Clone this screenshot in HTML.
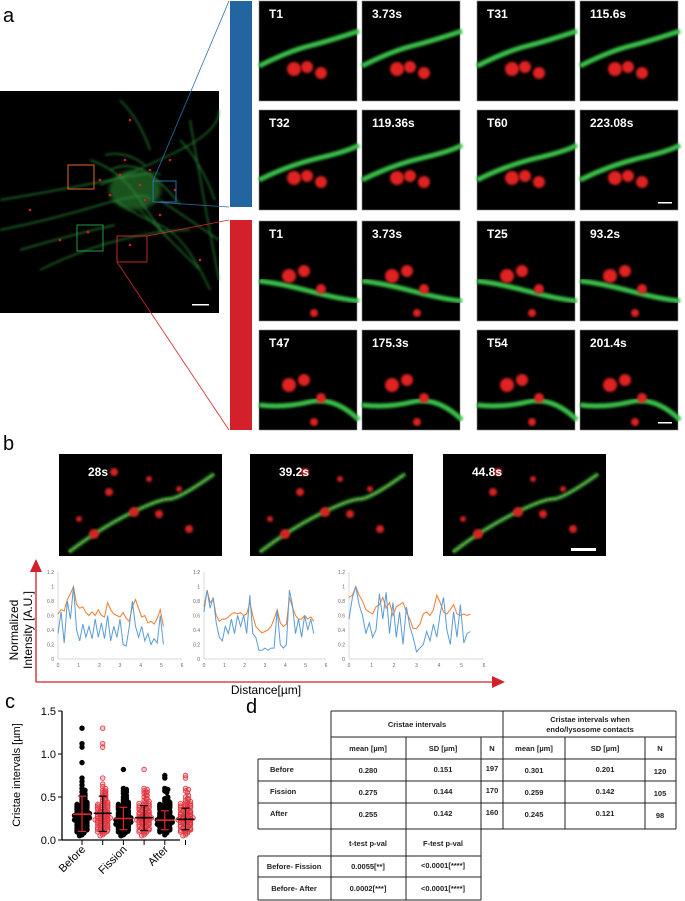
<!DOCTYPE html>
<html><head><meta charset="utf-8"><style>
html,body{margin:0;padding:0;background:#fff;}
svg{display:block;font-family:"Liberation Sans",Arial,sans-serif;}
</style></head><body>
<svg id="fig" width="685" height="901" viewBox="0 0 685 901" xmlns="http://www.w3.org/2000/svg">
<defs>
<filter id="blur1"><feGaussianBlur stdDeviation="1.2"/></filter>
<filter id="blur2"><feGaussianBlur stdDeviation="2"/></filter>
</defs>
<text x="3" y="22" font-size="20">a</text>
<text x="3" y="450" font-size="20">b</text>
<text x="5" y="708" font-size="20">c</text>
<text x="246" y="713" font-size="20">d</text>

<g id="overview">
<rect x="0" y="91" width="219" height="222" fill="#000"/>
<g filter="url(#blur1)" stroke="#2e9a3e" stroke-width="1.2" fill="none" opacity="0.9">
<path d="M0 200 Q60 190 110 180 T160 175"/><path d="M0 230 Q50 220 100 205 T150 200"/>
<path d="M90 160 Q120 170 140 200 T170 240"/><path d="M120 100 Q140 120 150 150"/>
<path d="M100 185 Q140 170 180 150 T219 110"/><path d="M40 270 Q80 250 120 240 T190 230"/>
<path d="M140 210 Q170 240 200 270"/><path d="M20 250 Q70 235 115 225"/>
<path d="M160 200 Q190 220 219 240"/><path d="M190 120 Q200 180 219 280"/>
<path d="M110 170 Q130 160 150 175 T180 205"/><path d="M115 200 Q135 215 160 225 T210 290"/>
<path d="M105 155 Q125 150 145 165"/><path d="M180 140 Q200 160 215 200"/>
</g>
<ellipse cx="135" cy="190" rx="26" ry="20" fill="#2f8a35" opacity="0.6" filter="url(#blur2)"/>
<g fill="#d02020">
<circle cx="120" cy="175" r="1.3"/><circle cx="140" cy="185" r="1.3"/><circle cx="150" cy="170" r="1.3"/><circle cx="110" cy="195" r="1.3"/>
<circle cx="88" cy="232" r="1.3"/><circle cx="130" cy="245" r="1.3"/><circle cx="60" cy="240" r="1.3"/><circle cx="170" cy="160" r="1.3"/>
<circle cx="130" cy="120" r="1.3"/><circle cx="200" cy="260" r="1.3"/><circle cx="30" cy="210" r="1.3"/><circle cx="160" cy="215" r="1.3"/>
<circle cx="125" cy="160" r="1.3"/><circle cx="145" cy="200" r="1.3"/><circle cx="100" cy="180" r="1.3"/><circle cx="175" cy="190" r="1.3"/>
</g>
<rect x="68" y="165" width="26" height="24" fill="none" stroke="#e0662a" stroke-width="1"/>
<rect x="153" y="181" width="23" height="21" fill="none" stroke="#2d6fa8" stroke-width="1"/>
<rect x="77" y="225" width="26" height="26" fill="none" stroke="#1f9a4a" stroke-width="1"/>
<rect x="117" y="236" width="30" height="26" fill="none" stroke="#c0282b" stroke-width="1"/>
<rect x="192" y="304" width="17" height="1.5" fill="#fff"/>
</g>
<line x1="153" y1="181" x2="229" y2="1" stroke="#2d6fa8" stroke-width="0.8"/>
<line x1="153" y1="202" x2="229" y2="207" stroke="#2d6fa8" stroke-width="0.8"/>
<line x1="147" y1="236" x2="229" y2="220" stroke="#d0282b" stroke-width="0.8"/>
<line x1="117" y1="262" x2="229" y2="430" stroke="#d0282b" stroke-width="0.8"/>
<rect x="230" y="1" width="22" height="206" fill="#2365a0"/>
<rect x="230" y="220" width="22" height="210" fill="#d3202a"/>
<g id="tiles"></g>
<g id="bimgs"></g>

<g id="lineplots"></g>
<path d="M36 682 V566" stroke="#d3202a" stroke-width="1.3" fill="none"/>
<path d="M30 572 L36 559 L42 572 Z" fill="#d3202a"/>
<path d="M36 682 H494" stroke="#d3202a" stroke-width="1.3" fill="none"/>
<path d="M492 676 L505 682 L492 688 Z" fill="#d3202a"/>
<text transform="translate(18,630) rotate(-90)" font-size="12" text-anchor="middle">Normalized</text>
<text transform="translate(32,630) rotate(-90)" font-size="12" text-anchor="middle">Intensity [A.U.]</text>
<text x="266" y="694" font-size="12" text-anchor="middle">Distance[µm]</text>

<g id="panelc"></g>
<g id="table"></g>
</svg>
<script>
const NS="http://www.w3.org/2000/svg";
function mk(tag,attrs,parent,txt){const e=document.createElementNS(NS,tag);for(const k in attrs)e.setAttribute(k,attrs[k]);if(txt!==undefined)e.textContent=txt;parent.appendChild(e);return e;}

/* ---------- Tiles (panel a) ---------- */
const tileLabels=[["T1","3.73s","T31","115.6s"],["T32","119.36s","T60","223.08s"],["T1","3.73s","T25","93.2s"],["T47","175.3s","T54","201.4s"]];
const tileX=[259,362,477,580], tileY=[1,110,221,330];
const tg=document.getElementById('tiles');
const greens=["M0 65 Q30 50 50 45 T100 30","M0 70 Q30 55 60 48 T100 35","M0 60 Q20 62 50 70 T100 80","M0 75 Q25 78 50 72 T100 90"];
tileY.forEach((y,r)=>tileX.forEach((x,c)=>{
  const g=mk('g',{transform:`translate(${x},${y})`},tg);
  
  
  mk('rect',{x:0,y:0,width:98,height:100,fill:'#000',stroke:'#888','stroke-width':0.6},g);
  mk('path',{d:greens[r],stroke:'#3bc04a','stroke-width':5,fill:'none',filter:'url(#blur1)'},g);
  const blobs=r<2?[[35,68,7],[48,66,6],[62,72,6]]:[[30,55,7],[45,50,6],[62,68,5],[55,92,4]];
  blobs.forEach(b=>mk('circle',{cx:b[0],cy:b[1],r:b[2],fill:'#e02020',filter:'url(#blur1)'},g));
  const t=mk('text',{x:10,y:17,'font-size':12,'font-weight':'bold',fill:'#fff'},g,tileLabels[r][c]);
  
  
  if(c===3&&(r===1||r===3))mk('rect',{x:78,y:92,width:14,height:1.5,fill:'#fff'},g);
}));

/* ---------- panel b images ---------- */
const bLabels=["28s","39.2s","44.8s"], bX=[59,250,443];
const bg=document.getElementById('bimgs');
bX.forEach((x,i)=>{
  const g=mk('g',{transform:`translate(${x},454)`},bg);
  
  
  mk('rect',{x:0,y:0,width:163,height:102,fill:'#000'},g);
  mk('path',{d:"M10 98 Q40 75 70 60 T110 45 T155 20",stroke:'#30b040','stroke-width':4,fill:'none',filter:'url(#blur1)'},g);
  mk('path',{d:"M10 98 Q40 75 70 60 T110 45 T155 20",stroke:'#e0662a','stroke-width':0.8,'stroke-dasharray':'3 2',fill:'none'},g);
  [[55,18,4],[50,38,4],[75,58,5],[35,80,5],[100,60,4],[120,35,3],[130,75,4],[20,65,3],[90,25,3]].forEach(b=>mk('circle',{cx:b[0],cy:b[1],r:b[2],fill:'#d82020',filter:'url(#blur1)'},g));
  const t=mk('text',{x:29,y:22,'font-size':12,'font-weight':'bold',fill:'#fff'},g,bLabels[i]);
  
  
  if(i===2)mk('rect',{x:128,y:94,width:25,height:3,fill:'#fff'},g);
});

/* ---------- line plots (panel b) ---------- */
const distStep=0.15;
const orange1=[0.62,0.68,0.66,0.82,0.9,1.0,0.75,0.7,0.72,0.64,0.6,0.65,0.6,0.68,0.6,0.58,0.78,0.68,0.62,0.6,0.58,0.64,0.56,0.52,0.72,0.82,0.7,0.58,0.6,0.5,0.52,0.48,0.56,0.68,0.45];
const blue1=[0.35,0.65,0.22,0.8,0.55,1.0,0.4,0.25,0.48,0.3,0.45,0.28,0.55,0.3,0.5,0.28,0.6,0.25,0.45,0.3,0.55,0.2,0.18,0.45,0.8,0.45,0.3,0.45,0.25,0.35,0.2,0.28,0.22,0.6,0.2];
const orange2=[0.72,0.95,0.78,0.82,0.6,0.52,0.55,0.55,0.58,0.62,0.64,0.62,0.64,0.6,0.62,0.78,0.6,0.45,0.4,0.36,0.38,0.4,0.45,0.55,0.68,0.5,0.45,0.48,0.85,0.72,0.6,0.55,0.55,0.6,0.55,0.58,0.52];
const blue2=[0.65,0.95,0.7,0.85,0.5,0.3,0.25,0.45,0.35,0.55,0.35,0.6,0.45,0.6,0.35,0.88,0.35,0.3,0.12,0.12,0.15,0.12,0.15,0.15,0.68,0.2,0.15,0.2,0.95,0.75,0.35,0.55,0.3,0.6,0.4,0.55,0.35];
const orange3=[0.85,0.88,1.0,0.88,0.8,0.68,0.65,0.62,0.72,0.75,0.85,0.7,0.78,0.6,0.72,0.75,0.78,0.65,0.55,0.42,0.42,0.48,0.62,0.65,0.6,0.68,0.88,0.78,0.65,0.62,0.68,0.75,0.62,0.6,0.62,0.6,0.62];
const blue3=[0.55,0.85,1.0,0.75,0.6,0.35,0.5,0.3,0.4,0.9,0.55,0.92,0.35,0.78,0.3,0.65,0.2,0.72,0.45,0.3,0.1,0.15,0.2,0.38,0.25,0.48,0.3,0.62,0.85,0.4,0.2,0.65,0.3,0.75,0.22,0.35,0.38];
const yTicks=[0,0.2,0.4,0.6,0.8,1,1.2];
const xTicks=[0,1,2,3,4,5,6];
const plots=[{o:orange1,b:blue1,x0:58,x1:182},{o:orange2,b:blue2,x0:204,x1:326},{o:orange3,b:blue3,x0:349,x1:484}];
const lp=document.getElementById('lineplots');
const py0=659,py1=572;
plots.forEach((p,pi)=>{
  const xs=v=>p.x0+(v/6)*(p.x1-p.x0), ys=v=>py0-(v/1.2)*(py0-py1);
  const g=mk('g',{},lp);
  
  
  mk('line',{x1:p.x0,y1:py1,x2:p.x0,y2:py0,stroke:'#ccc','stroke-width':0.7},g);
  mk('line',{x1:p.x0,y1:py0,x2:p.x1,y2:py0,stroke:'#ccc','stroke-width':0.7},g);
  yTicks.forEach(t=>{const e=mk('text',{x:p.x0-4,y:ys(t)+2,'font-size':5,fill:'#666','text-anchor':'end'},g,String(t));
    });
  xTicks.forEach(t=>{const e=mk('text',{x:xs(t),y:py0+8,'font-size':5,fill:'#666','text-anchor':'middle'},g,String(t));
    });
  [['o','#ed7d31','mito-intensity-line'],['b','#5b9bd5','cristae-intensity-line']].forEach(([k,col,nm])=>{
    const d=p[k].map((v,i)=>(i?'L':'M')+xs(i*distStep).toFixed(1)+' '+ys(v).toFixed(1)).join(' ');
    const e=mk('path',{d:d,stroke:col,'stroke-width':1,fill:'none'},g);
    
    
  });
});

/* ---------- panel c ---------- */
const groupLabels=["Before","Fission","After"];
const means=[0.30,0.31,0.25,0.26,0.23,0.24];
const sdLow=[0.10,0.10,0.12,0.11,0.12,0.12];
const sdHigh=[0.51,0.51,0.38,0.40,0.34,0.37];
const vals0=[1.3,1.12,1.08,0.9,0.72,0.68,0.64,0.6,0.56,0.52,0.5,0.47,0.45,0.42,0.4,0.38,0.36,0.35,0.33,0.32,0.31,0.3,0.29,0.28,0.27,0.26,0.25,0.24,0.23,0.22,0.21,0.2,0.18,0.17,0.15,0.14,0.12,0.1,0.08,0.06,0.05];
const vals1=[1.3,1.12,1.08,0.72,0.65,0.62,0.58,0.55,0.52,0.5,0.47,0.45,0.42,0.4,0.38,0.36,0.34,0.33,0.32,0.3,0.29,0.28,0.27,0.26,0.25,0.24,0.23,0.21,0.2,0.18,0.17,0.15,0.13,0.12,0.1,0.08,0.06,0.05];
const vals2=[0.82,0.6,0.57,0.54,0.5,0.47,0.45,0.42,0.4,0.38,0.36,0.34,0.32,0.3,0.29,0.28,0.27,0.26,0.25,0.24,0.23,0.22,0.21,0.2,0.19,0.18,0.17,0.15,0.13,0.12,0.1,0.08,0.06,0.05];
const vals3=[0.82,0.6,0.57,0.54,0.5,0.46,0.43,0.4,0.38,0.36,0.34,0.32,0.3,0.28,0.27,0.26,0.25,0.24,0.23,0.22,0.21,0.2,0.18,0.16,0.14,0.12,0.1,0.08,0.06,0.05];
const vals4=[0.75,0.72,0.6,0.57,0.48,0.45,0.42,0.4,0.38,0.36,0.34,0.32,0.3,0.29,0.28,0.27,0.26,0.25,0.24,0.23,0.22,0.21,0.2,0.19,0.18,0.17,0.16,0.14,0.12,0.1,0.08,0.06];
const vals5=[0.75,0.72,0.6,0.57,0.5,0.46,0.43,0.4,0.38,0.36,0.34,0.32,0.3,0.28,0.27,0.26,0.25,0.24,0.23,0.22,0.21,0.2,0.18,0.16,0.14,0.12,0.1,0.08,0.06,0.05];
const allVals=[vals0,vals1,vals2,vals3,vals4,vals5];
const cTicks=[0,0.5,1.0,1.5];
const pc=document.getElementById('panelc');
const cx0=62,cy0=840,cy1=711;
const cyS=v=>cy0-(v/1.5)*(cy0-cy1);
const cxS=i=>82+i*20.7;
mk('line',{x1:cx0,y1:cy1,x2:cx0,y2:cy0,stroke:'#000','stroke-width':1.3},pc);
mk('line',{x1:cx0,y1:cy0,x2:180,y2:cy0,stroke:'#000','stroke-width':1.3},pc);
cTicks.forEach(t=>{mk('line',{x1:cx0-4,y1:cyS(t),x2:cx0,y2:cyS(t),stroke:'#000'},pc);
  const e=mk('text',{x:cx0-6,y:cyS(t)+4,'font-size':11,'text-anchor':'end'},pc,t.toFixed(1));
  });
const ct=mk('text',{transform:'translate(20,775) rotate(-90)','font-size':11,'text-anchor':'middle'},pc,'Cristae intervals [µm]');

allVals.forEach((vs,gi)=>{
  const red=gi%2===1, x=cxS(gi);
  mk('line',{x1:x,y1:cy0,x2:x,y2:cy0+5,stroke:'#000'},pc);
  const g=mk('g',{},pc);
  
  
  const fill=red?'rgba(230,90,100,0.35)':'#000', st=red?'#e0303a':'#000';
  const bins={};
  vs.forEach(v=>{
    const b=Math.round(v*40);bins[b]=(bins[b]||0)+1;
    const n=bins[b];
    const dx=Math.min(7,(n%2?1:-1)*Math.floor(n/2)*2.5);
    const pts=[[dx,0]];
    if(v<0.6&&v>0.08){pts.push([-dx+2,1.5]);pts.push([dx+(v<0.45?5:3),-1.5]);if(v<0.45)pts.push([-dx-5,0.5]);}
    pts.forEach(pq=>mk('circle',{cx:x+Math.max(-9,Math.min(9,pq[0])),cy:cyS(v)+pq[1],r:2.3,fill:fill,stroke:st,'stroke-width':0.8},g));
  });
  const lc=red?'#000':'#e0262c';
  mk('line',{x1:x,y1:cyS(sdLow[gi]),x2:x,y2:cyS(sdHigh[gi]),stroke:lc,'stroke-width':1.2},pc);
  mk('line',{x1:x-4,y1:cyS(sdLow[gi]),x2:x+4,y2:cyS(sdLow[gi]),stroke:lc,'stroke-width':1.2},pc);
  mk('line',{x1:x-4,y1:cyS(sdHigh[gi]),x2:x+4,y2:cyS(sdHigh[gi]),stroke:lc,'stroke-width':1.2},pc);
  const ml=mk('line',{x1:x-9,y1:cyS(means[gi]),x2:x+9,y2:cyS(means[gi]),stroke:lc,'stroke-width':1.6},pc);
  
});
groupLabels.forEach((l,i)=>{const x=cxS(i*2)+4;
  const e=mk('text',{transform:`translate(${x},850) rotate(-45)`,'font-size':11,'text-anchor':'end'},pc,l);
  });

/* ---------- panel d table ---------- */
const tb=document.getElementById('table');
function ln(x1,y1,x2,y2){mk('line',{x1,y1,x2,y2,stroke:'#222','stroke-width':1},tb);}
function tx(x,y,s,extra){const e=mk('text',Object.assign({x,y,'font-size':7.5,'font-weight':'bold','text-anchor':'middle',fill:'#222'},extra||{}),tb,s);
  return e;}
const R=[711,737,759,781,803,829];
ln(331,711,676,711);ln(331,737,676,737);ln(258,759,676,759);ln(258,781,676,781);ln(258,803,676,803);ln(258,829,676,829);
ln(331,711,331,829);ln(503,711,503,829);ln(676,711,676,829);ln(258,759,258,829);
[406,481,565,645].forEach(x=>ln(x,737,x,829));
tx(417,727,'Cristae intervals');
tx(590,722,'Cristae intervals when');tx(590,732,'endo/lysosome contacts');
tx(368,751,'mean [µm]');tx(443,751,'SD [µm]');tx(492,751,'N');tx(534,751,'mean [µm]');tx(605,751,'SD [µm]');tx(660,751,'N');
const rowNames=["Before","Fission","After"];
const meanAll=["0.280","0.275","0.255"], sdAll=["0.151","0.144","0.142"], nAll=["197","170","160"];
const meanC=["0.301","0.259","0.245"], sdC=["0.201","0.142","0.121"], nC=["120","105","98"];
rowNames.forEach((r,i)=>{const y=R[2+i]+14;
  tx(270,y-1,r,{'text-anchor':'start'});tx(368,y,meanAll[i]);tx(443,y-1,sdAll[i]);tx(492,y-2,nAll[i]);
  tx(534,y,meanC[i]);tx(605,y-1,sdC[i]);tx(660,y+1,nC[i]);});
ln(331,829,331,900);ln(406,829,406,900);ln(481,829,481,900);ln(258,856,258,900);
ln(258,856,481,856);ln(258,877,481,877);ln(258,900,481,900);
tx(368,846,'t-test p-val');tx(443,846,'F-test p-val');
tx(294,869,'Before- Fission');tx(368,869,'0.0055[**]');tx(443,868,'<0.0001[****]');
tx(294,891,'Before- After');tx(368,891,'0.0002[***]');tx(443,891,'<0.0001[****]');
</script>
</body></html>
